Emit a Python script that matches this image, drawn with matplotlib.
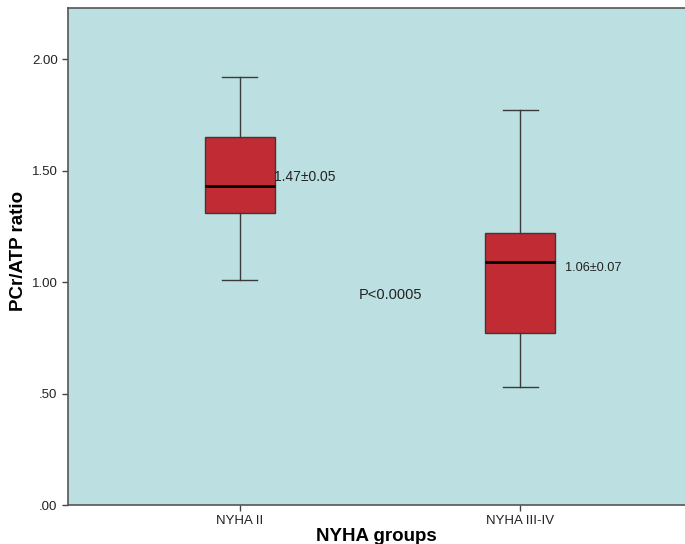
import matplotlib
matplotlib.use("Agg")
import matplotlib.pyplot as plt

plt.rcParams['font.family'] = ['Liberation Sans', 'DejaVu Sans']

categories = ["NYHA II", "NYHA III-IV"]
whislo = [1.01, 0.53]
q1 = [1.31, 0.77]
med = [1.43, 1.09]
q3 = [1.65, 1.22]
whishi = [1.92, 1.77]
annot = ["1.47±0.05", "1.06±0.07"]
ptext = "P<0.0005"
yticks = [0.0, 0.5, 1.0, 1.5, 2.0]
yticklabels = [".00", ".50", "1.00", "1.50", "2.00"]

fig = plt.figure(figsize=(6.85, 5.44), dpi=100)
ax = fig.add_axes([68/685, 39/544, 1 - 68/685, (505-8)/544])
ax.set_facecolor("#BCE0E1")

stats = []
for i, c in enumerate(categories):
    stats.append(dict(label=c, whislo=whislo[i], q1=q1[i], med=med[i],
                      q3=q3[i], whishi=whishi[i], fliers=[]))
pos = [1, 2]
ax.bxp(stats, positions=pos, widths=0.25, patch_artist=True, showfliers=False,
       boxprops=dict(facecolor="#C12B33", edgecolor="#3A3A3A", linewidth=1.0),
       medianprops=dict(color="#000000", linewidth=2.0),
       whiskerprops=dict(color="#3A3A3A", linewidth=1.0),
       capprops=dict(color="#3A3A3A", linewidth=1.0),
       capwidths=0.125)

ax.set_xlim(0.386, 2.589)
ax.set_ylim(0, 2.229)
ax.set_yticks(yticks)
ax.set_yticklabels(yticklabels, fontsize=9.5, color="#222222")
ax.set_xticks(pos)
ax.set_xticklabels(categories, fontsize=9.5, color="#222222")
ax.tick_params(axis='both', length=4, color="#444444", width=1)

for s in ["top", "left", "bottom"]:
    ax.spines[s].set_color("#555555")
    ax.spines[s].set_linewidth(1.2)
ax.spines["right"].set_visible(False)

ax.set_ylabel("PCr/ATP ratio", fontsize=13.5, fontweight="bold")
ax.yaxis.set_label_coords(-0.066, 0.511)
ax.set_xlabel("NYHA groups", fontsize=13.5, fontweight="bold", labelpad=0.5)

ax.text(pos[0] + 0.12, 1.47, annot[0], fontsize=10, ha="left", va="center", color="#222222")
ax.text(pos[1] + 0.16, 1.065, annot[1], fontsize=9.2, ha="left", va="center", color="#222222")
ax.text(1.536, 0.94, ptext, fontsize=10.5, ha="center", va="center", color="#222222")

fig.savefig("out.png", dpi=100)
